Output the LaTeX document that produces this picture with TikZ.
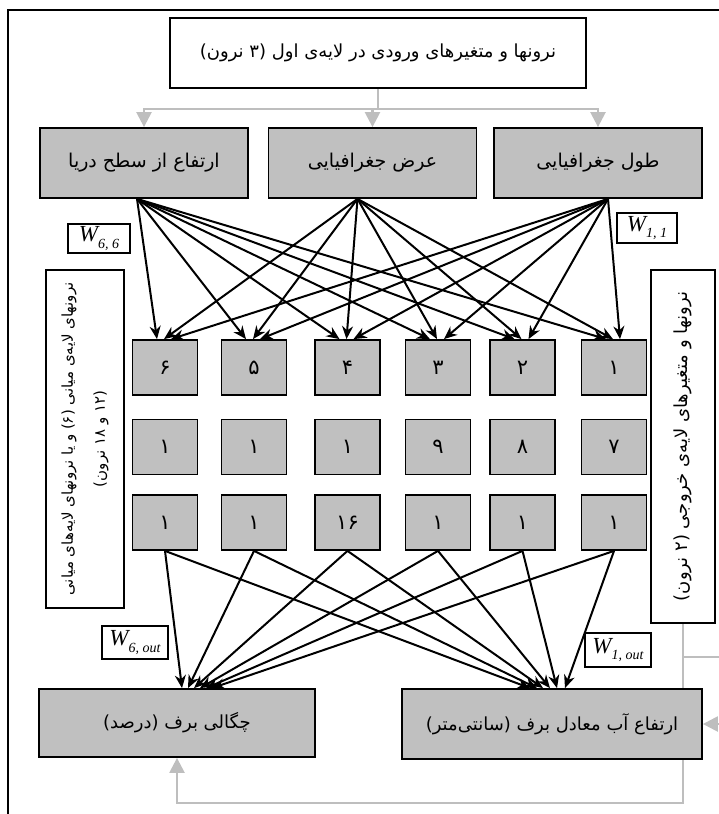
\documentclass[tikz,border=0pt]{standalone}
\usepackage{fontspec}
\setmainfont{Liberation Serif}
\newfontfamily\arabicfont[Script=Arabic]{DejaVu Sans}
\TeXXeTstate=1
\usetikzlibrary{arrows.meta,positioning,backgrounds}
\definecolor{boxgray}{RGB}{192,192,192}
\definecolor{linkgray}{RGB}{190,190,190}
\tikzset{>={Stealth[length=13pt,width=11pt]}}
\newcommand{\fatext}[1]{\arabicfont\beginR #1\endR}
\newcommand{\wlab}[1]{W\raisebox{-0.28em}{\fontsize{14}{14}\selectfont #1}}
\tikzset{
  layerbox/.style={draw, line width=1.8pt, fill=boxgray, minimum width=208pt, minimum height=70pt, font=\fontsize{19}{22}\selectfont},
  neuron/.style={draw, line width=1.8pt, fill=boxgray, minimum width=65pt, minimum height=55pt, font=\fontsize{21}{22}\selectfont},
  notebox/.style={draw, line width=1.6pt, fill=white, font=\fontsize{15}{20}\selectfont},
  wlabel/.style={draw, line width=1.4pt, fill=white, inner sep=1pt, font=\fontsize{23}{24}\selectfont\itshape},
  link/.style={->, line width=2pt},
  feed/.style={-{Triangle[length=15pt,width=15pt]}, draw=linkgray, line width=2.4pt},
}
\begin{document}
\begin{tikzpicture}[x=1pt,y=-1pt]
\useasboundingbox (0,0) rectangle (719,814);
% outer frame
\draw[line width=1.4pt] (8,830) -- (8,10) -- (730,10);
% input layer
\node[notebox, line width=1.8pt, minimum width=416pt, minimum height=70pt, font=\fontsize{18}{22}\selectfont] (inlayer) at (378,53) {\fatext{نرونها و متغیرهای ورودی در لایه‌ی اول (۳ نرون)}};
\node[layerbox] (elev) at (144,163) {\fatext{ارتفاع از سطح دریا}};
\node[layerbox] (lat) at (372.5,163) {\fatext{عرض جغرافیایی}};
\node[layerbox] (lon) at (598,163) {\fatext{طول جغرافیایی}};
\draw[line width=2.4pt, linkgray] (inlayer.south) -- ++(0,20) coordinate (split);
\draw[feed] (split) -| (elev.north);
\draw[feed] (split) -| (lat.north);
\draw[feed] (split) -| (lon.north);
% hidden layer
\foreach \c/\x/\a/\b/\d in {1/614/۱/۷/۱, 2/522.5/۲/۸/۱, 3/438/۳/۹/۱, 4/347.5/۴/۱/۱۶, 5/254/۵/۱/۱, 6/165/۶/۱/۱} {
  \node[neuron] (p\c) at (\x,367.5) {\fatext{\a}};
  \node[neuron, below of=p\c, node distance=79.5pt] (q\c) {\fatext{\b}};
  \node[neuron, below of=q\c, node distance=75.5pt] (r\c) {\fatext{\d}};
}
\foreach \c in {1,...,6} {
  \draw[link] ([xshift=-7pt]elev.south) -- ([xshift=-8pt]p\c.north);
  \draw[link] ([xshift=-15pt]lat.south) -- ([xshift=-1pt]p\c.north);
  \draw[link] ([xshift=10pt]lon.south) -- ([xshift=6pt]p\c.north);
}
% side notes
\node[notebox, rotate=90, minimum width=338pt, minimum height=78pt, align=center, font=\fontsize{15}{32}\selectfont] (hidnote) at (85,439) {\fatext{نرونهای لایه‌ی میانی (۶) و یا نرونهای لایه‌های میانی}\\\fatext{(۱۲ و ۱۸ نرون)}};
\node[notebox, rotate=90, minimum width=353pt, minimum height=64pt, font=\fontsize{18}{20}\selectfont] (outnote) at (683,446.5) {\fatext{نرونها و متغیرهای لایه‌ی خروجی (۲ نرون)}};
\node[wlabel, minimum width=62pt, minimum height=29pt] (w66) at (99,238.5) {\wlab{6, 6}};
\node[wlabel, minimum width=60pt, minimum height=30pt] (w11) at (647,228) {\wlab{1, 1}};
% output layer
\node[layerbox, minimum width=276pt, minimum height=68pt, font=\fontsize{18}{22}\selectfont] (dens) at (177,723) {\fatext{چگالی برف (درصد)}};
\node[layerbox, minimum width=300pt, font=\fontsize{18}{22}\selectfont] (swe) at (552,724) {\fatext{ارتفاع آب معادل برف (سانتی‌متر)}};
\node[wlabel, minimum width=66pt, minimum height=33pt] (w6out) at (135,642.5) {\wlab{6, out}};
\node[wlabel, minimum width=66pt, minimum height=34pt] (w1out) at (618,650) {\wlab{1, out}};
\foreach \c/\dl/\dr in {6/5/-22, 5/11/-15, 4/17/-9, 3/23/-2, 2/29/5, 1/35/13} {
  \draw[link] (r\c.south) -- ([xshift=\dl pt]dens.north);
  \draw[link] (r\c.south) -- ([xshift=\dr pt]swe.north);
}
\coordinate (loopy) at (0,803);
\coordinate (branchy) at (0,657);
\coordinate (farright) at (745,0);
\begin{scope}[on background layer]
  \draw[feed] (outnote.west) -- (outnote.west |- loopy) -| (dens.south);
  \draw[feed] (outnote.west |- branchy) -- (farright |- branchy) |- (swe.east);
\end{scope}
\end{tikzpicture}
\end{document}
